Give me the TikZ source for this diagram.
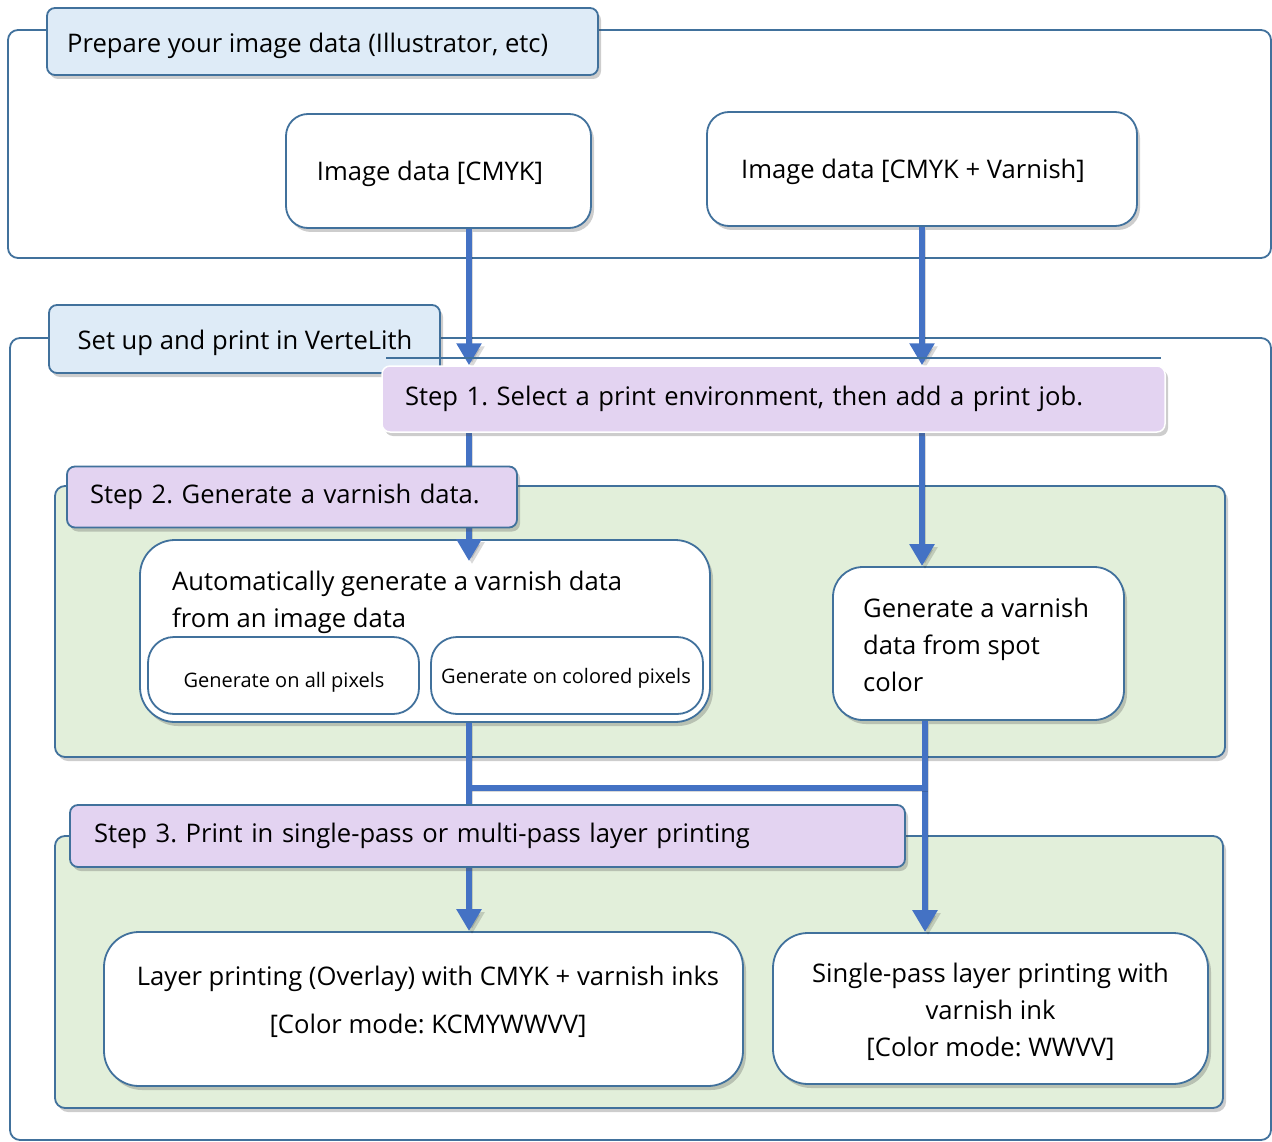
\documentclass[tikz,border=0pt]{standalone}
\usepackage{fontspec}
\setmainfont{Open Sans}
\usetikzlibrary{arrows.meta,shadows,calc}
\definecolor{bord}{HTML}{41719C}
\definecolor{arrc}{HTML}{4472C4}
\definecolor{lblue}{HTML}{DEEBF7}
\definecolor{lav}{HTML}{E3D3F1}
\definecolor{lgreen}{HTML}{E2EFDA}
\pgfdeclarelayer{bg}\pgfdeclarelayer{arr}\pgfdeclarelayer{top}
\pgfsetlayers{bg,main,arr,top}
\newcommand\myfsmain{\fontsize{25.6}{37}\selectfont}
\newcommand\myfssmall{\fontsize{20}{24}\selectfont}
\frenchspacing
\tikzset{
  shad/.style={drop shadow={shadow xshift=3pt,shadow yshift=-4pt,opacity=0.28,fill=black!70}},
  box/.style={draw=bord,line width=1.8pt,fill=white,rounded corners=22pt,align=center,inner sep=0pt,font=\myfsmain,shad},
  smallbox/.style={draw=bord,line width=1.8pt,fill=white,rounded corners=26pt,align=center,inner sep=0pt,font=\myfssmall},
  txt/.style={inner sep=0pt,font=\myfsmain},
  lbl/.style={draw=bord,line width=1.8pt,fill=lblue,rounded corners=8pt,inner ysep=0pt,align=left,font=\myfsmain,shad},
  steplbl/.style={draw=bord,line width=1.8pt,fill=lav,rounded corners=8pt,inner ysep=0pt,align=left,font=\myfsmain,shad},
  frame/.style={draw=bord,line width=1.8pt,rounded corners=10pt},
  panel/.style={frame,fill=lgreen,shad},
  flow/.style={draw=arrc,line width=6.5pt,
    preaction={draw=black,opacity=0.15,transform canvas={shift={(3pt,-3pt)}}}},
  arrow/.style={flow,-{Triangle[width=24pt,length=22pt]}},
}
\begin{document}
\begin{tikzpicture}[x=1pt,y=-1pt]
\useasboundingbox (0,0) rectangle (1272,1142);
% frames and panels
\begin{pgfonlayer}{bg}
  \draw[frame] (8,30) rectangle (1271,258);
  \draw[frame] (10,338) rectangle (1271,1140);
  \draw[panel] (55,486) rectangle (1225,757);
  \draw[panel] (55,836) rectangle (1223,1108);
\end{pgfonlayer}
% white boxes
\node[box,minimum width=305pt,minimum height=114pt] (cmyk) at (438.5,171) {};
\node[txt] (cmyktxt) at (430,174) {Image data [CMYK]};
\node[box,minimum width=430pt,minimum height=114pt] (cmykv) at (922,169) {};
\node[txt] (cmykvtxt) at (913,172) {Image data [CMYK + Varnish]};
\node[box,minimum width=570pt,minimum height=182pt,rounded corners=35pt] (auto) at (425,631) {};
\node[txt,align=left,anchor=west] (autotxt) at (172,602) {Automatically generate a varnish data\\from an image data};
\node[smallbox,minimum width=271pt,minimum height=77pt] (allpx) at (283.5,675.5) {};
\node[txt,font=\myfssmall] (allpxtxt) at (284,682) {Generate on all pixels};
\node[smallbox,minimum width=272pt,minimum height=77pt] (colpx) at (567,675.5) {};
\node[txt,font=\myfssmall] (colpxtxt) at (566,678) {Generate on colored pixels};
\node[box,minimum width=291pt,minimum height=153pt,rounded corners=30pt] (spot) at (978.5,643.5) {};
\node[txt,align=left,anchor=west] (spottxt) at (863,645) {Generate a varnish\\data from spot\\color};
\node[box,minimum width=639pt,minimum height=154pt,rounded corners=35pt] (layer) at (423.5,1009) {};
\node[txt,align=center] (layertxt) at (428,1002) {Layer printing (Overlay) with CMYK + varnish inks\\[11pt]{[Color mode: KCMYWWVV]}};
\node[box,minimum width=435pt,minimum height=151pt,rounded corners=35pt] (single) at (990.5,1008.5) {};
\node[txt,align=center] (singletxt) at (990.5,1012) {Single-pass layer printing with\\varnish ink\\{[Color mode: WWVV]}};
% labels
\begin{pgfonlayer}{top}
  \node[lbl,minimum height=67pt,minimum width=551pt] (prep) at (322.5,41.5) {};
  \node[txt,anchor=west] (preptxt) at (67,46) {Prepare your image data (Illustrator, etc)};
  \node[lbl,minimum height=68pt,minimum width=391pt,inner xsep=0pt] (setup) at (244.5,339) {};
  \node[txt] (setuptxt) at (245,343) {Set up and print in VerteLith};
  \draw[draw=bord,line width=1.5pt] (386,358) -- (1161,358);
  \node[steplbl,draw=white,line width=1.5pt,minimum height=66pt,text width=737pt,inner xsep=23pt] (step1) at (773.5,399) {Step 1. Select a print environment, then add a print job.};
  \node[steplbl,minimum height=61pt,text width=404pt,inner xsep=23pt] (step2) at (292,497) {Step 2. Generate a varnish data.};
  \node[steplbl,minimum height=62pt,text width=787pt,inner xsep=24pt] (step3) at (487.5,836) {Step 3. Print in single-pass or multi-pass layer printing};
\end{pgfonlayer}
% connectors
\coordinate (L) at (469,0);
\coordinate (R) at (922,0);
\coordinate (R2) at (925,0);
\coordinate (jL) at (469,788);
\coordinate (jR) at (925,788);
\begin{pgfonlayer}{arr}
  \draw[arrow] (cmyk.south -| L) -- (step1.north -| L);
  \draw[arrow] (cmykv.south -| R) -- (step1.north -| R);
  \draw[arrow] (step1.south -| L) -- ($(auto.north -| L)+(0,22)$);
  \draw[arrow] (step1.south -| R) -- (spot.north -| R);
  \draw[arrow] (auto.south -| L) -- (layer.north -| L);
  \draw[arrow] (spot.south -| R2) -- (single.north -| R2);
  \draw[flow] (jL) -- (jR);
\end{pgfonlayer}
\end{tikzpicture}
\end{document}
